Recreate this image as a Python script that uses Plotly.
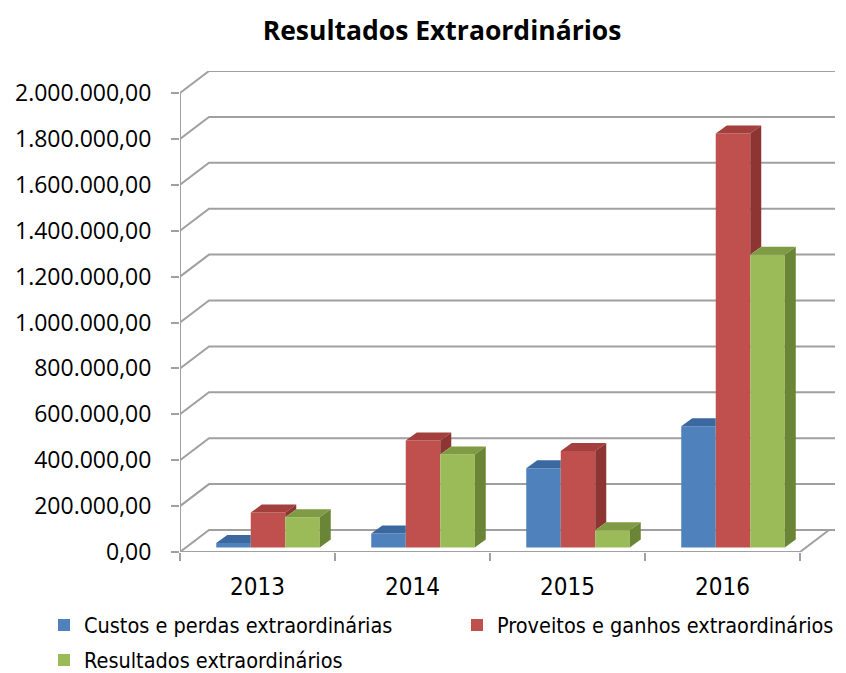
import plotly.graph_objects as go

# ---------------- data ----------------
categories = ["2013", "2014", "2015", "2016"]
series_names = [
    "Custos e perdas extraordinárias",
    "Proveitos e ganhos extraordinários",
    "Resultados extraordinários",
]
custos = [20000, 61000, 345000, 528000]
proveitos = [152000, 466000, 420000, 1804000]
resultados = [132000, 405000, 75000, 1276000]
y_ticks = [0, 200000, 400000, 600000, 800000, 1000000,
           1200000, 1400000, 1600000, 1800000, 2000000]

front_colors = ["#4F81BD", "#C0504D", "#9BBB59"]
top_colors = ["#3C68A0", "#A33F3C", "#7F9C45"]
side_colors = ["#355C8C", "#8C3533", "#6A8536"]

# ---------------- geometry ----------------
W, H = 846, 673
S = 8  # page body margin offset (screen px = figure px + S)
PLOT_L, PLOT_T, PLOT_B, PLOT_R = 180 - S, 71 - S, 552 - S, 842 - S
ML, MT = PLOT_L, PLOT_T
MR, MB = W - PLOT_R, H - PLOT_B
PW, PH = PLOT_R - PLOT_L, PLOT_B - PLOT_T

PX_PER_CAT = 155.0
PX_PER_VAL = 229.5 / 1_000_000
X0 = -0.5
XR = X0 + PW / PX_PER_CAT
YR = PH / PX_PER_VAL

wall_dx = 29 / PX_PER_CAT
wall_dy = 22 / PX_PER_VAL
grid_end = X0 + (835 - 180) / PX_PER_CAT
bar_w = 34.5 / PX_PER_CAT
group_shift = 10.5 / PX_PER_CAT
bar_base = 4.5 / PX_PER_VAL
bar_dx = 11 / PX_PER_CAT
bar_dy = 8 / PX_PER_VAL


def fmt(v):
    s = f"{v:,.2f}"
    return s.replace(",", "X").replace(".", ",").replace("X", ".")


def px_x(p):  # screen x -> paper x
    return (p - S - PLOT_L) / PW


def px_y(p):  # screen y -> paper y
    return (PLOT_B - (p - S)) / PH


GRID = "#A0A0A0"
fig = go.Figure()

# back wall / side wall gridlines (base subplot, drawn below bars)
for v in y_ticks:
    fig.add_trace(go.Scatter(
        x=[X0, X0 + wall_dx, grid_end], y=[v, v + wall_dy, v + wall_dy],
        mode="lines", line=dict(color=GRID, width=2),
        showlegend=False, hoverinfo="skip"))
# front vertical axis line
fig.add_trace(go.Scatter(x=[X0, X0], y=[0, y_ticks[-1]], mode="lines",
                         line=dict(color=GRID, width=2), showlegend=False, hoverinfo="skip"))
# floor front & right edge
n = len(categories)
fig.add_trace(go.Scatter(x=[X0, X0 + n, X0 + n + wall_dx], y=[0, 0, wall_dy], mode="lines",
                         line=dict(color=GRID, width=2), showlegend=False, hoverinfo="skip"))

# ---------------- bars ----------------
all_series = [custos, proveitos, resultados]
for k, (name, vals) in enumerate(zip(series_names, all_series)):
    xs = [i + group_shift + (k - 1) * bar_w for i in range(n)]
    fig.add_trace(go.Bar(
        x=xs, y=vals, base=bar_base, width=bar_w, name=name,
        marker=dict(color=front_colors[k], line=dict(width=0)),
        xaxis="x2", yaxis="y2",
        legend="legend" if k < 2 else "legend2"))

for i in range(n):
    for k in range(3):
        xc = i + group_shift + (k - 1) * bar_w
        x0, x1 = xc - bar_w / 2, xc + bar_w / 2
        top = bar_base + all_series[k][i]
        if k < 2:
            t = bar_base + all_series[k + 1][i]
        else:
            t = -1e12
        tt = min(max(t, top), top + bar_dy)
        xm = x1 + bar_dx * (tt - top) / bar_dy
        # top face (clipped by next bar's front)
        fig.add_trace(go.Scatter(
            x=[x0, x1, x1, xm, x1 + bar_dx, x0 + bar_dx, x0],
            y=[top, top, tt, tt, top + bar_dy, top + bar_dy, top],
            mode="lines", fill="toself", fillcolor=top_colors[k],
            line=dict(width=0, color=top_colors[k]),
            xaxis="x2", yaxis="y2", showlegend=False, hoverinfo="skip"))
        # side face (visible part above next bar)
        sb = max(bar_base, t)
        if sb < top:
            fig.add_trace(go.Scatter(
                x=[x1, x1, x1 + bar_dx, x1 + bar_dx, x1],
                y=[sb, top, top + bar_dy, sb + bar_dy, sb],
                mode="lines", fill="toself", fillcolor=side_colors[k],
                line=dict(width=0, color=side_colors[k]),
                xaxis="x2", yaxis="y2", showlegend=False, hoverinfo="skip"))

NARROW = "DejaVu Sans Condensed, Liberation Sans Narrow, Open Sans, sans-serif"
fig.update_layout(
    width=W, height=H,
    margin=dict(l=ML, r=MR, t=MT, b=MB, autoexpand=False),
    paper_bgcolor="white", plot_bgcolor="white",
    title=dict(text="<b>Resultados Extraordinários</b>", x=(442 - S) / W, xanchor="center",
               y=1 - (31 - S) / H, yanchor="middle",
               font=dict(family="Open Sans, sans-serif", size=26.5, color="black")),
    barmode="overlay",
    xaxis=dict(range=[X0, XR], tickvals=[X0 + j for j in range(n + 1)],
               ticks="outside", ticklen=8, tickwidth=1.5, tickcolor=GRID,
               showticklabels=False, showgrid=False, zeroline=False, showline=False),
    yaxis=dict(range=[0, YR], tickvals=y_ticks, ticktext=[fmt(v) for v in y_ticks],
               ticks="outside", ticklen=8, tickwidth=1.5, tickcolor=GRID,
               ticklabelstandoff=15,
               tickfont=dict(family="Open Sans, sans-serif", size=23, color="black"),
               showgrid=False, zeroline=False, showline=False),
    xaxis2=dict(range=[X0, XR], overlaying="x", anchor="y2", side="bottom",
                tickvals=list(range(n)), ticktext=categories, ticks="",
                ticklabelstandoff=18,
                tickfont=dict(family=NARROW, size=24, color="black"),
                showgrid=False, zeroline=False, showline=False),
    yaxis2=dict(range=[0, YR], overlaying="y", visible=False),
    legend=dict(orientation="h", x=px_x(44), xanchor="left",
                y=px_y(625), yanchor="middle",
                entrywidth=368, entrywidthmode="pixels",
                font=dict(family=NARROW, size=21.5, color="black"),
                bgcolor="rgba(0,0,0,0)"),
    legend2=dict(orientation="h", x=px_x(44), xanchor="left",
                 y=px_y(660), yanchor="middle",
                 font=dict(family=NARROW, size=21.5, color="black"),
                 bgcolor="rgba(0,0,0,0)"),
)

fig.write_html("out.html")
